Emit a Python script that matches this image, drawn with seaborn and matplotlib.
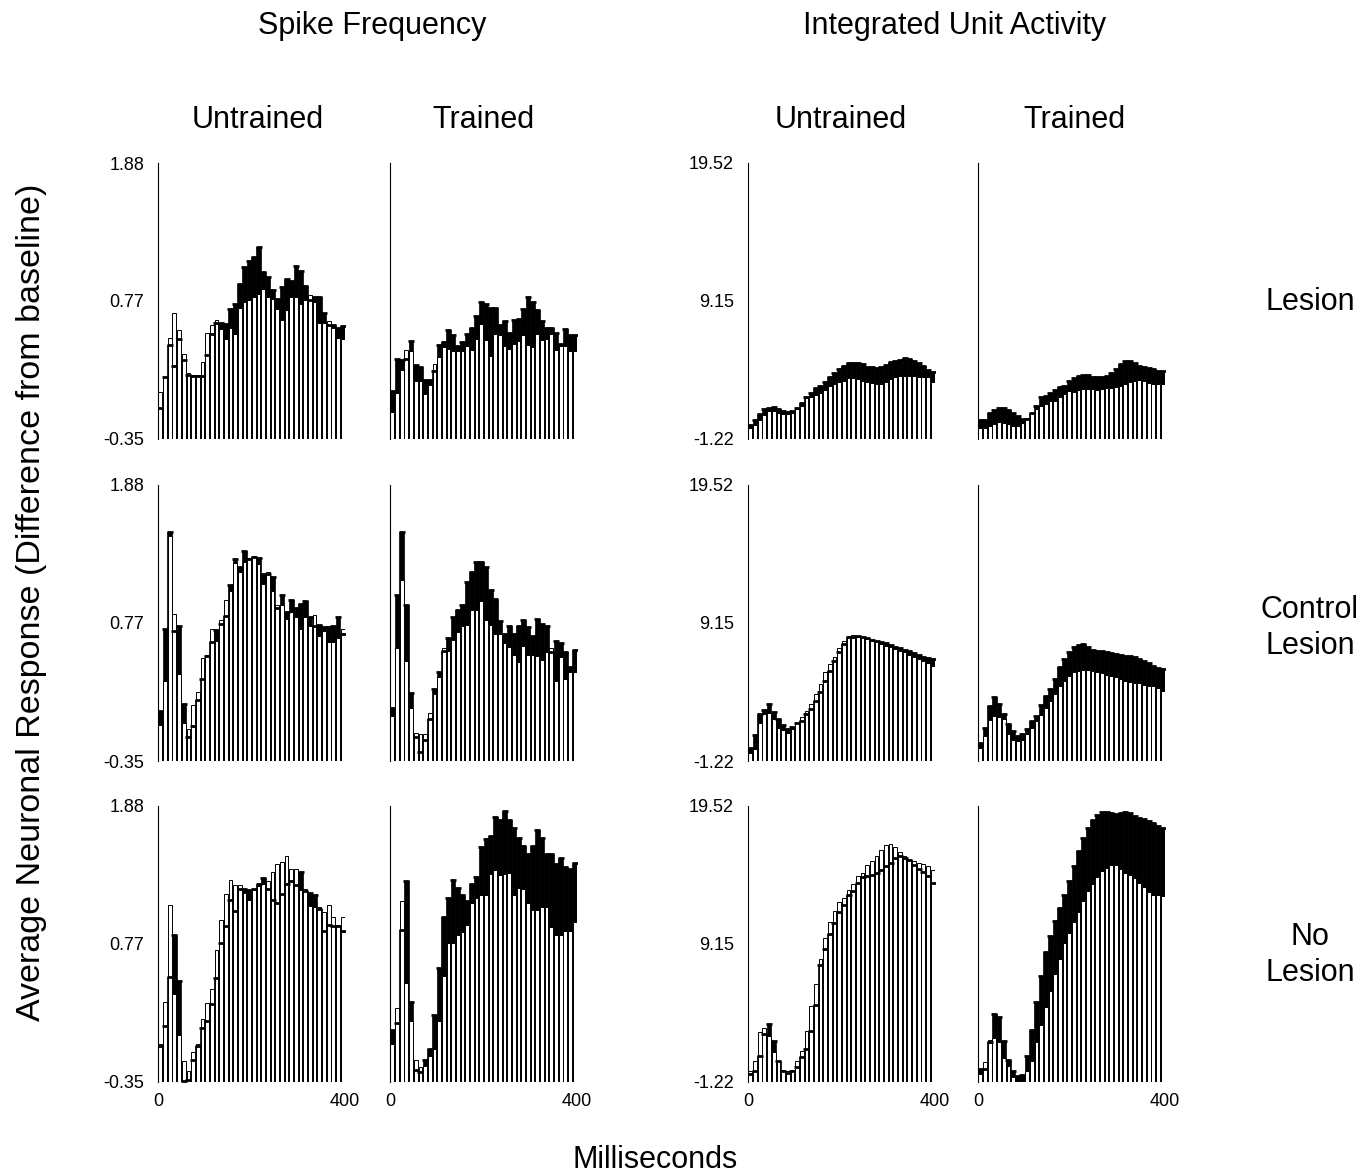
import numpy as np
import pandas as pd
import matplotlib
matplotlib.use('Agg')
import matplotlib.pyplot as plt
import seaborn as sns

# 10 ms bins, 0-400 ms
time_ms = np.arange(5, 400, 10)

# Spike Frequency (open = white bars, filled = black bars)
sf_untrained_lesion_open = [0.03, 0.15, 0.47, 0.67, 0.53, 0.34, 0.18, 0.17, 0.17, 0.27, 0.51, 0.57, 0.61, 0.54, 0.46, 0.55, 0.50, 0.71, 0.76, 0.77,
                            0.80, 0.82, 0.86, 0.80, 0.78, 0.70, 0.61, 0.69, 0.80, 0.80, 0.74, 0.77, 0.81, 0.76, 0.59, 0.59, 0.60, 0.55, 0.47, 0.46]
sf_untrained_lesion_filled = [-0.10, 0.15, 0.41, 0.24, 0.46, 0.29, 0.17, 0.16, 0.16, 0.16, 0.33, 0.50, 0.59, 0.59, 0.58, 0.70, 0.74, 0.90, 1.04, 1.09,
                              1.12, 1.20, 1.00, 0.96, 0.85, 0.78, 0.88, 0.94, 0.93, 1.05, 1.01, 0.89, 0.77, 0.80, 0.80, 0.67, 0.57, 0.57, 0.55, 0.56]
sf_trained_lesion_open = [-0.13, 0.02, 0.21, 0.37, 0.36, 0.12, 0.12, 0.01, 0.09, 0.26, 0.31, 0.39, 0.38, 0.36, 0.36, 0.36, 0.40, 0.37, 0.46, 0.58,
                          0.45, 0.32, 0.50, 0.49, 0.40, 0.38, 0.42, 0.44, 0.49, 0.41, 0.39, 0.50, 0.45, 0.46, 0.50, 0.37, 0.40, 0.40, 0.36, 0.36]
sf_trained_lesion_filled = [0.04, 0.30, 0.29, 0.30, 0.44, 0.25, 0.23, 0.13, 0.13, 0.20, 0.41, 0.43, 0.53, 0.49, 0.40, 0.43, 0.50, 0.55, 0.64, 0.76,
                            0.74, 0.71, 0.71, 0.57, 0.60, 0.51, 0.61, 0.62, 0.70, 0.80, 0.76, 0.69, 0.60, 0.55, 0.55, 0.51, 0.42, 0.54, 0.49, 0.49]
sf_untrained_control_open = [-0.06, 0.30, 1.47, 0.84, 0.35, -0.04, -0.09, 0.10, 0.21, 0.48, 0.51, 0.72, 0.62, 0.79, 0.95, 1.02, 1.25, 1.18, 1.26, 1.29,
                             1.31, 1.24, 1.08, 1.18, 1.02, 0.91, 0.91, 0.80, 0.85, 0.81, 0.72, 0.81, 0.74, 0.83, 0.66, 0.70, 0.61, 0.61, 0.64, 0.72]
sf_untrained_control_filled = [0.05, 0.72, 1.50, 0.70, 0.74, 0.11, -0.16, -0.07, 0.14, 0.31, 0.50, 0.61, 0.71, 0.76, 0.82, 1.07, 1.28, 1.22, 1.35, 1.28,
                               1.30, 1.29, 1.16, 1.16, 1.14, 0.89, 0.99, 0.85, 0.95, 0.89, 0.92, 0.94, 0.81, 0.74, 0.75, 0.73, 0.73, 0.74, 0.81, 0.68]
sf_trained_control_open = [0.01, 0.56, 1.11, 0.46, 0.08, -0.12, -0.13, -0.13, 0.04, 0.19, 0.33, 0.56, 0.54, 0.63, 0.69, 0.74, 0.75, 0.87, 0.87, 0.94,
                           0.79, 0.75, 0.68, 0.68, 0.60, 0.57, 0.51, 0.45, 0.58, 0.51, 0.51, 0.50, 0.47, 0.53, 0.56, 0.30, 0.49, 0.31, 0.37, 0.37]
sf_trained_control_filled = [0.08, 0.99, 1.50, 0.91, 0.20, -0.16, -0.28, -0.18, -0.01, 0.23, 0.37, 0.54, 0.64, 0.81, 0.87, 0.91, 1.10, 1.18, 1.26, 1.26,
                             1.22, 1.03, 0.96, 0.78, 0.68, 0.74, 0.68, 0.74, 0.79, 0.73, 0.66, 0.80, 0.76, 0.74, 0.53, 0.62, 0.60, 0.53, 0.41, 0.55]
sf_untrained_nolesion_open = [-0.04, 0.30, 1.08, 0.36, 0.03, -0.18, -0.26, -0.11, -0.04, 0.16, 0.29, 0.40, 0.72, 0.96, 1.17, 1.28, 1.24, 1.24, 1.18, 1.12,
                              1.20, 1.23, 1.25, 1.27, 1.35, 1.41, 1.43, 1.48, 1.37, 1.37, 1.20, 1.21, 1.07, 1.06, 1.06, 1.02, 1.08, 0.98, 0.92, 0.98]
sf_untrained_nolesion_filled = [-0.06, 0.10, 0.50, 0.84, 0.47, -0.34, -0.33, -0.17, -0.06, 0.09, 0.14, 0.28, 0.49, 0.77, 0.91, 1.12, 1.03, 1.21, 1.21, 1.20,
                                1.21, 1.25, 1.30, 1.21, 1.12, 1.10, 1.17, 1.25, 1.27, 1.24, 1.35, 1.19, 1.18, 1.16, 1.05, 0.87, 0.92, 0.91, 0.91, 0.87]
sf_trained_nolesion_open = [-0.04, 0.25, 1.11, 0.45, 0.14, -0.17, -0.23, -0.22, -0.14, -0.08, 0.14, 0.51, 0.77, 0.77, 0.84, 0.86, 0.92, 1.10, 1.14, 1.16,
                            1.16, 1.33, 1.36, 1.32, 1.33, 1.34, 1.16, 1.22, 1.21, 1.10, 1.04, 1.04, 1.06, 1.06, 0.90, 0.84, 0.84, 0.87, 0.87, 0.94]
sf_trained_nolesion_filled = [0.07, 0.13, 0.88, 1.27, 0.30, -0.25, -0.27, -0.17, -0.08, 0.19, 0.57, 0.98, 1.14, 1.28, 1.22, 1.16, 1.11, 1.25, 1.31, 1.55,
                              1.61, 1.64, 1.79, 1.77, 1.84, 1.77, 1.70, 1.62, 1.56, 1.49, 1.56, 1.69, 1.62, 1.49, 1.49, 1.41, 1.46, 1.39, 1.37, 1.42]

# Integrated Unit Activity
iua_untrained_lesion_open = [-0.37, -0.16, 0.19, 0.59, 0.89, 0.89, 0.77, 0.64, 0.64, 0.72, 1.02, 1.27, 1.85, 1.97, 2.07, 2.20, 2.45, 2.78, 2.90, 3.03,
                             3.15, 3.33, 3.33, 3.28, 3.15, 3.03, 2.98, 2.90, 2.90, 3.08, 3.28, 3.46, 3.53, 3.53, 3.53, 3.48, 3.46, 3.46, 3.41, 3.10]
iua_untrained_lesion_filled = [-0.16, 0.19, 0.64, 1.02, 1.14, 1.19, 1.02, 0.89, 0.84, 0.89, 1.14, 1.47, 1.97, 2.27, 2.60, 2.78, 3.03, 3.41, 3.73, 4.03,
                               4.29, 4.49, 4.49, 4.49, 4.41, 4.21, 4.16, 4.11, 4.21, 4.34, 4.59, 4.66, 4.74, 4.84, 4.79, 4.66, 4.49, 4.29, 3.98, 3.83]
iua_trained_lesion_open = [-0.37, -0.37, -0.24, -0.06, 0.09, 0.01, -0.11, -0.24, -0.24, 0.01, 0.39, 0.72, 1.02, 1.27, 1.44, 1.60, 1.65, 1.95, 2.15, 2.35,
                           2.32, 2.45, 2.53, 2.53, 2.53, 2.45, 2.50, 2.58, 2.60, 2.65, 2.78, 2.90, 3.08, 3.15, 3.23, 3.15, 2.98, 2.90, 2.90, 2.90]
iua_trained_lesion_filled = [0.19, 0.19, 0.77, 0.94, 1.09, 1.14, 0.94, 0.77, 0.51, 0.26, 0.26, 0.77, 1.27, 1.90, 2.02, 2.27, 2.45, 2.70, 2.78, 3.15,
                             3.33, 3.53, 3.61, 3.58, 3.46, 3.41, 3.41, 3.53, 3.71, 4.03, 4.41, 4.61, 4.61, 4.49, 4.29, 4.16, 4.08, 4.01, 3.91, 3.86]
iua_untrained_control_open = [-0.59, -0.34, 1.67, 2.30, 2.35, 1.92, 1.29, 1.09, 0.92, 1.17, 1.67, 2.10, 2.55, 3.05, 3.81, 4.56, 5.44, 6.07, 6.62, 7.25,
                              7.78, 8.16, 8.28, 8.13, 8.08, 7.96, 7.83, 7.70, 7.58, 7.45, 7.33, 7.20, 7.08, 6.95, 6.77, 6.62, 6.45, 6.32, 6.12, 5.94]
iua_untrained_control_filled = [-0.26, 0.72, 2.30, 2.60, 3.05, 2.43, 1.92, 1.49, 1.17, 1.34, 1.60, 1.80, 2.30, 2.68, 3.30, 3.93, 4.81, 5.57, 6.32, 6.95,
                                7.58, 8.08, 8.13, 8.21, 8.08, 8.01, 7.91, 7.83, 7.70, 7.63, 7.53, 7.38, 7.25, 7.15, 7.03, 6.87, 6.75, 6.62, 6.52, 6.45]
iua_trained_control_open = [-0.21, 0.67, 1.85, 2.17, 2.05, 1.92, 0.79, 0.34, 0.29, 0.34, 0.79, 1.24, 1.80, 2.25, 2.80, 3.30, 3.81, 4.44, 4.81, 5.19,
                            5.49, 5.57, 5.64, 5.64, 5.57, 5.44, 5.37, 5.27, 5.19, 5.11, 4.94, 4.76, 4.69, 4.61, 4.61, 4.51, 4.44, 4.44, 4.26, 4.06]
iua_trained_control_filled = [0.16, 1.29, 2.93, 3.56, 3.05, 2.30, 1.55, 1.04, 0.67, 0.79, 1.17, 1.75, 2.17, 2.98, 3.68, 4.18, 4.94, 5.82, 6.45, 6.95,
                              7.33, 7.53, 7.58, 7.33, 7.13, 7.08, 7.08, 7.00, 6.87, 6.82, 6.75, 6.70, 6.70, 6.62, 6.45, 6.32, 6.15, 5.94, 5.77, 5.69]
iua_untrained_nolesion_open = [-0.37, 0.38, 2.57, 2.87, 2.25, 1.00, 0.38, -0.32, -0.42, -0.32, 0.38, 1.13, 2.62, 4.49, 6.17, 8.06, 9.61, 10.81, 11.61, 12.31,
                               12.61, 13.23, 13.65, 14.23, 14.48, 15.10, 15.35, 15.78, 16.22, 16.60, 16.67, 16.47, 16.10, 15.78, 15.48, 15.35, 15.23, 15.15, 14.98, 14.73]
iua_untrained_nolesion_filled = [-0.62, -0.42, 0.75, 2.42, 3.17, 1.87, 0.38, -0.37, -0.57, -0.37, -0.12, 0.63, 1.25, 2.62, 4.57, 7.56, 8.74, 9.91, 10.73, 11.56,
                                 12.11, 12.86, 13.10, 13.73, 14.15, 14.23, 14.35, 14.48, 14.73, 14.98, 15.23, 15.60, 15.73, 15.65, 15.48, 15.10, 14.80, 14.55, 14.23, 13.73]
iua_trained_nolesion_open = [-0.62, 0.25, 1.92, 2.12, 1.82, 0.58, 0.00, -0.82, -1.12, -1.12, -0.37, 0.38, 1.75, 3.07, 4.42, 5.62, 6.87, 8.06, 9.24, 9.99,
                             10.81, 11.56, 12.41, 13.10, 13.65, 14.15, 14.65, 14.85, 15.10, 15.05, 14.80, 14.48, 14.35, 14.10, 13.73, 13.40, 13.05, 12.86, 12.86, 12.73]
iua_trained_nolesion_filled = [-0.25, -0.25, 1.75, 3.92, 3.67, 1.87, 0.43, -0.37, -0.75, -0.67, 0.75, 2.67, 4.82, 6.74, 8.56, 9.74, 10.86, 11.86, 12.86, 13.90,
                               14.98, 16.15, 17.15, 17.85, 18.47, 18.84, 19.09, 19.09, 18.97, 18.89, 18.97, 19.04, 18.97, 18.79, 18.60, 18.55, 18.40, 18.22, 18.05, 17.90]

sf_ticks = [-0.35, 0.77, 1.88]
sf_ticklabels = ['-0.35', '0.77', '1.88']
iua_ticks = [-1.22, 9.15, 19.52]
iua_ticklabels = ['-1.22', '9.15', '19.52']

col_titles = ['Untrained', 'Trained', 'Untrained', 'Trained']
row_titles = ['Lesion', 'Control\nLesion', 'No\nLesion']

panels = [
    [(sf_untrained_lesion_open, sf_untrained_lesion_filled), (sf_trained_lesion_open, sf_trained_lesion_filled),
     (iua_untrained_lesion_open, iua_untrained_lesion_filled), (iua_trained_lesion_open, iua_trained_lesion_filled)],
    [(sf_untrained_control_open, sf_untrained_control_filled), (sf_trained_control_open, sf_trained_control_filled),
     (iua_untrained_control_open, iua_untrained_control_filled), (iua_trained_control_open, iua_trained_control_filled)],
    [(sf_untrained_nolesion_open, sf_untrained_nolesion_filled), (sf_trained_nolesion_open, sf_trained_nolesion_filled),
     (iua_untrained_nolesion_open, iua_untrained_nolesion_filled), (iua_trained_nolesion_open, iua_trained_nolesion_filled)],
]

sns.set_style('white')
plt.rcParams['font.family'] = ['Liberation Sans', 'DejaVu Sans']
plt.rcParams['text.color'] = 'black'
plt.rcParams['xtick.color'] = 'black'
plt.rcParams['ytick.color'] = 'black'

W, H = 1370, 1176
fig = plt.figure(figsize=(W / 100, H / 100), dpi=100)

lefts = [158, 390, 748, 978]
tops = [163, 485, 806]
pw, ph = 187, 276


def draw_panel(ax, open_vals, filled_vals, ticks, ticklabels, show_y, show_x):
    ymin, ymax = ticks[0], ticks[-1]
    df = pd.DataFrame({'ms': time_ms, 'open': open_vals, 'filled': filled_vals})
    df['open_h'] = df['open'] - ymin
    df['filled_h'] = df['filled'] - ymin
    # black bars
    sns.barplot(data=df, x='ms', y='filled_h', native_scale=True, width=1.0, color='black',
                edgecolor='black', linewidth=0.5, saturation=1, errorbar=None, bottom=ymin, ax=ax)
    # white bars on top
    sns.barplot(data=df, x='ms', y='open_h', native_scale=True, width=0.8, color='white',
                edgecolor='black', linewidth=0.7, saturation=1, errorbar=None, bottom=ymin, ax=ax)
    # level of the black series inside the white bars
    sns.scatterplot(data=df, x='ms', y='filled', marker='_', s=14, color='black',
                    linewidth=2.0, ax=ax, zorder=5)
    ax.set_xlim(0, 400)
    ax.set_ylim(ymin, ymax)
    ax.set_xlabel('')
    ax.set_ylabel('')
    for s in ['top', 'right', 'bottom']:
        ax.spines[s].set_visible(False)
    ax.spines['left'].set_linewidth(0.8)
    ax.spines['left'].set_color('black')
    ax.set_yticks(ticks)
    if show_y:
        ax.set_yticklabels(ticklabels, fontsize=13)
    else:
        ax.set_yticklabels([])
    ax.set_xticks([0, 400])
    if show_x:
        ax.set_xticklabels(['0', '400'], fontsize=13)
    else:
        ax.set_xticklabels([])
    ax.tick_params(axis='both', length=0)
    ax.tick_params(axis='y', pad=10)
    ax.tick_params(axis='x', pad=8)


for r in range(3):
    for c in range(4):
        ax = fig.add_axes([lefts[c] / W, 1 - (tops[r] + ph) / H, pw / W, ph / H])
        open_vals, filled_vals = panels[r][c]
        if c < 2:
            ticks, labels = sf_ticks, sf_ticklabels
        else:
            ticks, labels = iua_ticks, iua_ticklabels
        draw_panel(ax, open_vals, filled_vals, ticks, labels, show_y=(c in (0, 2)), show_x=(r == 2))

fs = 22
fig.text(372 / W, 1 - 26 / H, 'Spike Frequency', ha='center', va='center', fontsize=fs)
fig.text(955 / W, 1 - 26 / H, 'Integrated Unit Activity', ha='center', va='center', fontsize=fs)
col_x = [258, 483, 841, 1074]
for c, t in enumerate(col_titles):
    fig.text(col_x[c] / W, 1 - 120 / H, t, ha='center', va='center', fontsize=fs)
row_y = [302, 628, 955]
for r, t in enumerate(row_titles):
    fig.text(1310 / W, 1 - row_y[r] / H, t, ha='center', va='center', fontsize=fs, linespacing=1.3)
fig.text(32 / W, 1 - 602 / H, 'Average Neuronal Response (Difference from baseline)',
         rotation=90, ha='center', va='center', fontsize=24.5)
fig.text(655 / W, 1 - 1160 / H, 'Milliseconds', ha='center', va='center', fontsize=fs)

fig.savefig('out.png', dpi=100)
